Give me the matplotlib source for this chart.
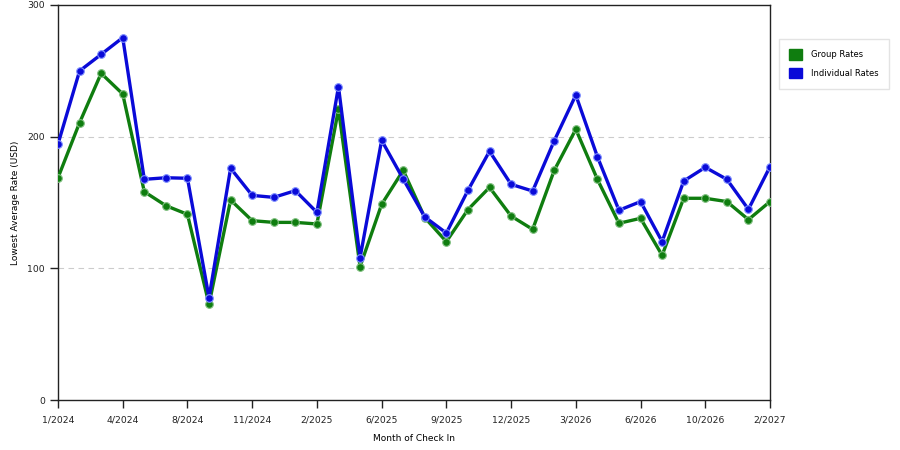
import matplotlib
matplotlib.use("Agg")
import matplotlib.pyplot as plt
from matplotlib.patches import Patch

tick_labels = ["1/2024", "4/2024", "8/2024", "11/2024", "2/2025", "6/2025",
               "9/2025", "12/2025", "3/2026", "6/2026", "10/2026", "2/2027"]

group_rates = [168.8, 210.6, 248.1, 232.4, 158.2, 147.6, 141.0, 72.7, 151.9, 136.2,
               134.9, 134.9, 133.7, 220.8, 101.3, 148.6, 174.4, 138.5, 120.3, 144.6,
               161.5, 139.7, 129.6, 174.4, 205.6, 167.6, 134.2, 138.0, 109.9, 153.2,
               153.2, 150.7, 137.0, 150.7]
individual_rates = [194.4, 249.9, 262.5, 275.2, 167.6, 168.8, 168.4, 77.7, 176.0, 155.4,
                    153.9, 159.0, 142.5, 238.0, 108.1, 197.2, 167.8, 139.0, 126.8, 159.2,
                    188.9, 163.8, 158.7, 196.9, 231.6, 184.8, 144.1, 150.7, 120.3, 166.3,
                    176.7, 167.6, 144.8, 177.2]

GREEN = "#0f7d0f"
BLUE = "#0a0ad8"

plt.rcParams["font.family"] = ["DejaVu Sans"]
plt.rcParams["font.size"] = 7

fig = plt.figure(figsize=(9, 4.5), dpi=100)
ax = fig.add_axes([58 / 900, 50 / 450, 712 / 900, 395 / 450])

x = list(range(len(group_rates)))
ax.plot(x, group_rates, color=GREEN, lw=2.4, marker="o", ms=5.5,
        markerfacecolor=GREEN, markeredgecolor="#7fbf7f", markeredgewidth=0.8, zorder=3)
ax.plot(x, individual_rates, color=BLUE, lw=2.4, marker="o", ms=5.5,
        markerfacecolor=BLUE, markeredgecolor="#7f8fff", markeredgewidth=0.8, zorder=3)

ax.set_xlim(0, len(x) - 1)
ax.set_ylim(0, 300)
ax.set_yticks([0, 100, 200, 300])
step = (len(x) - 1) / (len(tick_labels) - 1)
ax.set_xticks([i * step for i in range(len(tick_labels))])
ax.set_xticklabels(tick_labels)
ax.tick_params(direction="out", length=6, width=1, colors="#222222", labelsize=6.7)
ax.tick_params(axis="x", pad=5)

for yv in [100, 200]:
    ax.axhline(yv, color="#cccccc", lw=0.8, ls=(0, (5, 4)), zorder=1)

for s in ax.spines.values():
    s.set_color("#222222")
    s.set_linewidth(1)

ax.set_xlabel("Month of Check In", fontsize=6.5, labelpad=7)
ax.set_ylabel("Lowest Average Rate (USD)", fontsize=6.5, labelpad=5)

handles = [Patch(facecolor=GREEN, edgecolor=GREEN, label="Group Rates"),
           Patch(facecolor=BLUE, edgecolor=BLUE, label="Individual Rates")]
fig.legend(handles=handles, loc="upper left", bbox_to_anchor=(779 / 900, 1 - 39 / 450),
           borderaxespad=0, frameon=True, fancybox=False, edgecolor="#dddddd",
           fontsize=6, handlelength=1.5, handleheight=1.5, borderpad=1.25,
           labelspacing=1.0, handletextpad=1.1)

fig.savefig("out.png", dpi=100)
